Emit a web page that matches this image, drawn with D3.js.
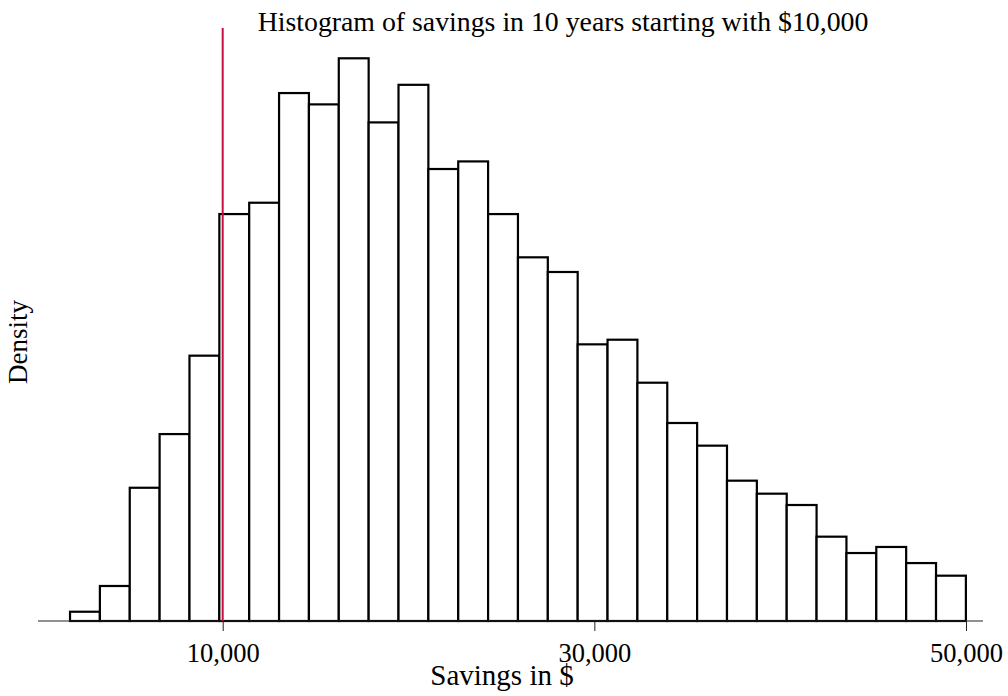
<!DOCTYPE html>
<html><head><meta charset="utf-8">
<script src="https://cdn.jsdelivr.net/npm/d3@7"></script>
<style>body{margin:0;background:#fff}svg{display:block}text{font-family:"Liberation Serif","Times New Roman",serif;fill:#000}</style>
</head><body>
<script>
// Histogram data (density per bin), bins of equal width starting at binStart
const binStart = 1784;
const binWidth = 1607;
const density = [0.72e-6, 2.72e-6, 10.35e-6, 14.52e-6, 20.61e-6, 31.61e-6, 32.49e-6, 41.01e-6, 40.13e-6, 43.71e-6,
                 38.73e-6, 41.65e-6, 35.11e-6, 35.70e-6, 31.61e-6, 28.25e-6, 27.11e-6, 21.49e-6, 21.85e-6, 18.51e-6,
                 15.38e-6, 13.62e-6, 10.90e-6, 9.89e-6, 9.01e-6, 6.55e-6, 5.28e-6, 5.75e-6, 4.50e-6, 3.52e-6];
const xTicks = [10000, 30000, 50000];
const refLine = 10000;
const title = "Histogram of savings in 10 years starting with $10,000";
const xTitle = "Savings in $";
const yTitle = "Density";

const W = 1008, H = 696;
const svg = d3.select("body").append("svg").attr("width", W).attr("height", H);
const x = d3.scaleLinear().domain([10000, 50000]).range([222.7, 966]);
const y = d3.scaleLinear().domain([0, 43.71e-6]).range([621, 58.3]);

const bins = density.map((d, i) => ({x0: binStart + i * binWidth, x1: binStart + (i + 1) * binWidth, d}));

svg.append("g").selectAll("rect").data(bins).join("rect")
  .attr("x", b => x(b.x0)).attr("width", b => x(b.x1) - x(b.x0))
  .attr("y", b => y(b.d)).attr("height", b => y(0) - y(b.d))
  .attr("fill", "#fff").attr("stroke", "#000").attr("stroke-width", 2.2);

// axis
svg.append("line").attr("x1", 38).attr("x2", 983).attr("y1", y(0)).attr("y2", y(0))
  .attr("stroke", "#222").attr("stroke-width", 1);
const ax = svg.append("g").attr("transform", `translate(0,${y(0)})`)
  .call(d3.axisBottom(x).tickValues(xTicks).tickSize(10).tickFormat(d3.format(",")));
ax.select(".domain").remove();
ax.selectAll(".tick line").attr("stroke", "#222").attr("stroke-width", 1);
ax.selectAll(".tick text").attr("font-size", 26.5).attr("fill", "#000")
  .attr("y", 41).attr("dy", 0);

// reference line
svg.append("line").attr("x1", x(refLine)).attr("x2", x(refLine)).attr("y1", 28).attr("y2", y(0))
  .attr("stroke", "#c8103e").attr("stroke-width", 2);

svg.append("text").attr("x", 563).attr("y", 31).attr("text-anchor", "middle").attr("font-size", 27.8).text(title);
svg.append("text").attr("x", 502).attr("y", 685).attr("text-anchor", "middle").attr("font-size", 29).text(xTitle);
svg.append("text").attr("transform", "translate(27,342) rotate(-90)").attr("text-anchor", "middle").attr("font-size", 27).text(yTitle);
</script>
</body></html>
